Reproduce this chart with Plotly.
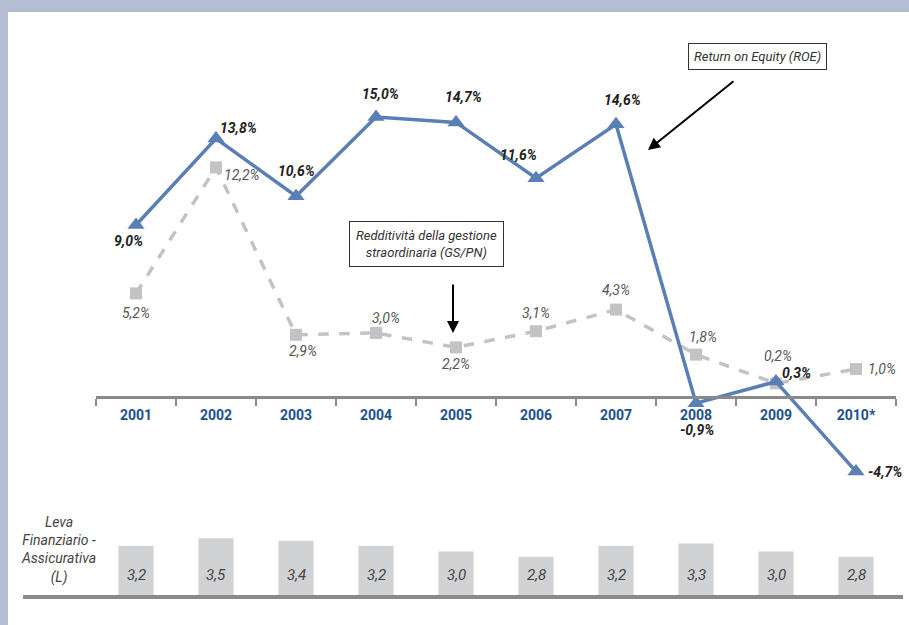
import plotly.graph_objects as go

years = ["2001", "2002", "2003", "2004", "2005", "2006", "2007", "2008", "2009", "2010*"]
roe = [9.0, 13.8, 10.6, 15.0, 14.7, 11.6, 14.6, -0.9, 0.3, -4.7]
gs_pn = [5.2, 12.2, 2.9, 3.0, 2.2, 3.1, 4.3, 1.8, 0.2, 1.0]
leva = [3.2, 3.5, 3.4, 3.2, 3.0, 2.8, 3.2, 3.3, 3.0, 2.8]

W, H = 909, 625
FONT = "Roboto, DejaVu Sans Condensed, sans-serif"
BLUE = "#5a7fb5"
GREY = "#c3c3c6"

xs = list(range(len(years)))
bounds = [i - 0.5 for i in range(len(years) + 1)]

def fmt(v, d=1):
    return f"{v:.{d}f}".replace(".", ",")

def px(x):
    return x / W

def py(y):
    return 1 - y / H

fig = go.Figure()

fig.add_trace(go.Scatter(
    x=xs, y=gs_pn, mode="lines+markers",
    line=dict(color=GREY, width=3.5, dash="dash"),
    marker=dict(symbol="square", size=12, color=GREY),
    xaxis="x", yaxis="y", hoverinfo="skip"))
fig.add_trace(go.Scatter(
    x=xs, y=roe, mode="lines+markers",
    line=dict(color=BLUE, width=3.5),
    marker=dict(symbol="triangle-up", size=15, color=BLUE),
    xaxis="x", yaxis="y", hoverinfo="skip"))
fig.add_trace(go.Bar(
    x=xs, y=leva, width=0.44, marker=dict(color="#d1d2d4", line=dict(width=0)),
    xaxis="x2", yaxis="y2", hoverinfo="skip"))

ann = []
roe_off = [(-8, -16), (22, 11), (0, 25), (4, 23), (7, 25), (-18, 23), (6, 24), (1, -27), (20, 9), (29, 0)]
for i, v, (dx, dy) in zip(xs, roe, roe_off):
    ann.append(dict(x=i, y=v, xref="x", yref="y", text=f"<b><i>{fmt(v)}%</i></b>",
                    showarrow=False, xshift=dx, yshift=dy,
                    font=dict(family=FONT, size=14, color="#222222")))
gs_off = [(0, -20), (26, -8), (7, -16), (10, 15), (0, -17), (0, 18), (0, 20), (7, 18), (2, 27), (26, 0)]
for i, v, (dx, dy) in zip(xs, gs_pn, gs_off):
    ann.append(dict(x=i, y=v, xref="x", yref="y", text=f"<i>{fmt(v)}%</i>",
                    showarrow=False, xshift=dx, yshift=dy,
                    font=dict(family=FONT, size=14, color="#555555")))
for i, v in zip(xs, leva):
    ann.append(dict(x=i, y=2.11, xref="x2", yref="y2", text=f"<i>{fmt(v)}</i>",
                    showarrow=False, font=dict(family=FONT, size=15, color="#444444")))

ann.append(dict(x=px(58), y=py(550), xref="paper", yref="paper", xanchor="center", yanchor="middle",
                text="<i>Leva<br>Finanziario -<br>Assicurativa<br>(L)</i>", showarrow=False,
                align="center", font=dict(family=FONT, size=14, color="#444444")))

ann.append(dict(x=px(757), y=py(57), xref="paper", yref="paper", xanchor="center", yanchor="middle",
                text="<i>Return on Equity (ROE)</i>", showarrow=False,
                bordercolor="#333333", borderwidth=1, borderpad=5, bgcolor="white",
                font=dict(family=FONT, size=13, color="#333333")))
ann.append(dict(x=px(426), y=py(244), xref="paper", yref="paper", xanchor="center", yanchor="middle",
                text="<i>Redditività della gestione<br>straordinaria (GS/PN)</i>", showarrow=False,
                bordercolor="#333333", borderwidth=1, borderpad=6, bgcolor="white",
                font=dict(family=FONT, size=13, color="#333333")))

ann.append(dict(x=px(648), y=py(150), xref="paper", yref="paper", text="",
                showarrow=True, ax=87, ay=-70, arrowhead=2, arrowsize=1.2,
                arrowwidth=2, arrowcolor="black"))
ann.append(dict(x=px(453), y=py(333), xref="paper", yref="paper", text="",
                showarrow=True, ax=0, ay=-50, arrowhead=2, arrowsize=1.2,
                arrowwidth=2, arrowcolor="black"))

shapes = [
    dict(type="rect", xref="paper", yref="paper", x0=0, x1=1, y0=py(12), y1=1,
         fillcolor="#b4bdd3", line=dict(width=0), layer="below"),
    dict(type="rect", xref="paper", yref="paper", x0=0, x1=px(8), y0=0, y1=1,
         fillcolor="#b4bdd3", line=dict(width=0), layer="below"),
    dict(type="line", xref="paper", yref="paper", x0=px(23), x1=px(903), y0=py(597), y1=py(597),
         line=dict(color="#8a8a8c", width=4)),
]

fig.update_layout(
    width=W, height=H, margin=dict(l=0, r=0, t=0, b=0),
    paper_bgcolor="white", plot_bgcolor="rgba(0,0,0,0)",
    showlegend=False, annotations=ann, shapes=shapes,
    xaxis=dict(domain=[px(96), px(896)], range=[-0.5, len(years) - 0.5],
               anchor="free", position=py(397),
               showline=True, linecolor="#8a8a8c", linewidth=3,
               tickmode="array", tickvals=xs, ticktext=years, ticks="", ticklen=0,
               tickangle=0, ticklabelstandoff=4,
               tickfont=dict(family=FONT, size=14, color="#1d5189", weight="bold"),
               minor=dict(tickmode="array", tickvals=bounds, ticks="outside", ticklen=7,
                          tickwidth=2, tickcolor="#8a8a8c", showgrid=False),
               showgrid=False, zeroline=False),
    yaxis=dict(domain=[py(490), py(30)], range=[(387 - 490) / 18, (387 - 30) / 18],
               visible=False, showgrid=False, zeroline=False),
    xaxis2=dict(domain=[px(96), px(896)], range=[-0.5, len(years) - 0.5], anchor="y2",
                visible=False, showgrid=False),
    yaxis2=dict(domain=[py(597), py(520)], range=[1.28, 1.28 + 77 / 26.5],
                visible=False, showgrid=False, zeroline=False),
)

fig.write_html("out.html", config={"displayModeBar": False},
               post_script="document.body.style.margin='0';document.body.style.padding='0';")
